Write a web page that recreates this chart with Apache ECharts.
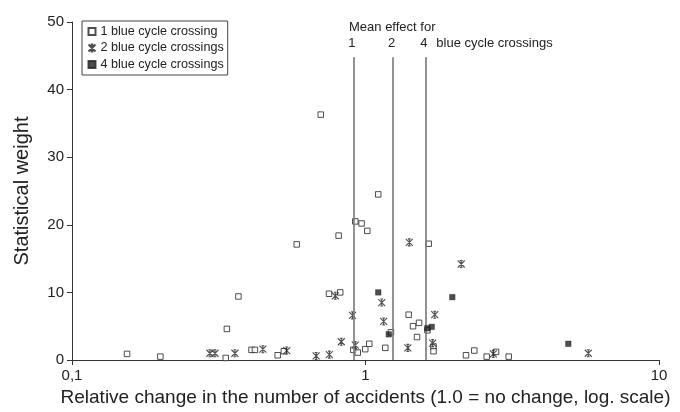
<!DOCTYPE html>
<html>
<head>
<meta charset="utf-8">
<script src="https://cdn.jsdelivr.net/npm/echarts@6/dist/echarts.min.js"></script>
<style>
html,body{margin:0;padding:0;background:#fff;}
#c{width:680px;height:412px;}
</style>
</head>
<body>
<div id="c"></div>
<script>
// ---- data (relative change, statistical weight) ----
const crossings1 = [
  [0.154,0.9],[0.200,0.5],[0.334,0.3],[0.337,4.6],[0.369,9.4],[0.409,1.5],[0.420,1.5],
  [0.502,0.7],[0.527,1.3],[0.583,17.1],[0.704,36.3],[0.751,9.8],[0.820,10.0],[0.810,18.4],
  [0.923,20.5],[0.970,20.2],[1.014,19.1],[1.105,24.5],[0.909,1.5],[0.941,1.1],[0.998,1.6],
  [1.030,2.4],[1.168,1.8],[1.221,4.1],[1.403,6.7],[1.452,5.0],[1.522,5.5],[1.498,3.4],
  [1.642,17.2],[1.626,4.4],[1.705,2.0],[1.705,1.3],[2.200,0.7],[2.348,1.4],[2.588,0.5],
  [2.784,1.2],[3.076,0.5]
];
const crossings2 = [
  [0.295,1.0],[0.307,1.0],[0.359,1.0],[0.447,1.6],[0.539,1.4],[0.679,0.6],[0.753,0.8],
  [0.827,2.7],[0.789,9.5],[0.903,6.6],[0.923,2.2],[1.136,8.5],[1.153,5.7],[1.410,17.4],
  [1.394,1.8],[1.722,6.7],[1.694,2.5],[2.119,14.2],[2.725,0.9],[5.742,1.0]
];
const crossings4 = [
  [1.105,10.0],[1.200,3.8],[1.624,4.7],[1.681,4.9],[1.976,9.3],[4.91,2.4]
];
const seriesNames = ['1 blue cycle crossing','2 blue cycle crossings','4 blue cycle crossings'];
const meanEffects = [0.909, 1.243, 1.599];
const meanLabels = ['1','2','4'];
const meanLineTop = 44.8;
const yTicks = {min:0, max:50, interval:10};
const xRange = {min:0.1, max:10};

const FONT = '"Liberation Sans", Arial, sans-serif';
const INK = '#222';
const chart = echarts.init(document.getElementById('c'));

const starPath = 'path://M0,0L10,10M10,0L0,10M5,0L5,10M3,0L7,0M3,10L7,10';

chart.setOption({
  animation:false,
  backgroundColor:'#fff',
  grid:{left:72,right:21,top:22,bottom:52},
  legend:{
    orient:'vertical', left:82, top:21,
    borderColor:'#444', borderWidth:1, padding:[4,4,4,4],
    itemGap:3.5, itemWidth:7, itemHeight:7,
    textStyle:{fontFamily:FONT, fontSize:12.6, color:INK},
    data:seriesNames
  },
  xAxis:{
    type:'log', logBase:10, min:xRange.min, max:xRange.max,
    name:'Relative change in the number of accidents (1.0 = no change, log. scale)',
    nameLocation:'middle', nameGap:28,
    nameTextStyle:{fontFamily:FONT, fontSize:19, color:INK},
    axisLine:{lineStyle:{color:'#333', width:1}},
    axisTick:{show:true, length:5, lineStyle:{color:'#333'}},
    minorTick:{show:false},
    splitLine:{show:false},
    axisLabel:{fontFamily:FONT, fontSize:15, color:INK, margin:8,
      formatter:v=>String(v).replace('.',',')}
  },
  yAxis:{
    type:'value', min:yTicks.min, max:yTicks.max, interval:yTicks.interval,
    name:'Statistical weight', nameLocation:'middle', nameGap:40, nameRotate:90,
    nameTextStyle:{fontFamily:FONT, fontSize:20, color:INK},
    axisLine:{show:true, lineStyle:{color:'#333', width:1}},
    axisTick:{show:true, length:5, lineStyle:{color:'#333'}},
    splitLine:{show:false},
    axisLabel:{fontFamily:FONT, fontSize:15, color:INK, margin:8}
  },
  series:[
    {
      name:seriesNames[0], type:'scatter', data:crossings1,
      symbol:'rect', symbolSize:5.5,
      itemStyle:{color:'#fff', borderColor:INK, borderWidth:1},
      markLine:{
        silent:true, symbol:['none','none'], animation:false,
        label:{show:false},
        lineStyle:{color:'#777', width:1.6, type:'solid'},
        data: meanEffects.map(v=>[{coord:[v,0]},{coord:[v,meanLineTop]}])
      },
      z:3
    },
    {
      name:seriesNames[1], type:'scatter', data:crossings2,
      symbol:starPath, symbolSize:7,
      itemStyle:{color:'none', borderColor:INK, borderWidth:1.1},
      z:4
    },
    {
      name:seriesNames[2], type:'scatter', data:crossings4,
      symbol:'rect', symbolSize:5.5,
      itemStyle:{color:INK, borderColor:INK, borderWidth:0.5},
      z:5
    }
  ]
});

// annotation text
const g = [];
g.push({type:'text', left:349, top:21, style:{text:'Mean effect for', font:'13px '+FONT, fill:INK}});
let lastX = 0;
meanEffects.forEach((v,i)=>{
  const px = chart.convertToPixel({gridIndex:0},[v,0])[0];
  lastX = px;
  g.push({type:'text', x:px-1.5, y:43, style:{text:meanLabels[i], font:'13px '+FONT, fill:INK, align:'center', verticalAlign:'middle'}});
});
g.push({type:'text', x:lastX+11, y:43, style:{text:'blue cycle crossings', font:'13px '+FONT, fill:INK, align:'left', verticalAlign:'middle'}});
chart.setOption({graphic:g});
</script>
</body>
</html>
